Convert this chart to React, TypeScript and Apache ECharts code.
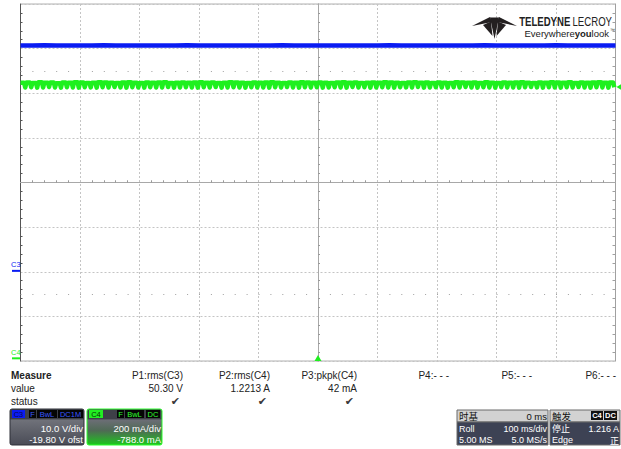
import React, { useEffect, useRef } from "react";
import * as echarts from "echarts";

const C3_STEP_MS = 20;
const C3_VOLTS = [
  50.52, 50.5, 50.53, 50.49, 50.52, 50.5, 50.51, 50.53, 50.5, 50.52,
  50.49, 50.51, 50.52, 50.5, 50.53, 50.51, 50.5, 50.52, 50.49, 50.51,
  50.52, 50.5, 50.53, 50.51, 50.5, 50.52, 50.5, 50.49, 50.52, 50.51,
  50.5, 50.53, 50.51, 50.5, 50.52, 50.49, 50.51, 50.52, 50.5, 50.53,
  50.51, 50.5, 50.52, 50.49, 50.51, 50.53, 50.5, 50.52, 50.51, 50.5, 50.52,
];

const C4_PERIOD_MS = 10;
const C4_PEAK_MA = [
  1235, 1236, 1234, 1237, 1235, 1236, 1233, 1236, 1235, 1237,
  1236, 1234, 1235, 1237, 1236, 1235, 1234, 1236, 1237, 1235,
  1234, 1236, 1235, 1236, 1237, 1234, 1235, 1236, 1235, 1236,
  1237, 1235, 1236, 1234, 1235, 1237, 1236, 1235, 1234, 1236,
  1235, 1236, 1237, 1235, 1234, 1236, 1235, 1237, 1236, 1235,
  1236, 1235, 1234, 1236, 1237, 1235, 1236, 1234, 1235, 1236,
  1235, 1237, 1236, 1235, 1234, 1236, 1237, 1235, 1236, 1234,
  1236, 1235, 1234, 1237, 1236, 1235, 1236, 1234, 1237, 1235,
  1234, 1236, 1235, 1236, 1237, 1235, 1234, 1236, 1235, 1237,
  1236, 1235, 1237, 1234, 1236, 1235, 1236, 1237, 1235, 1236,
];
const C4_DIP_MA = [
  1214, 1215, 1213, 1214, 1216, 1214, 1213, 1215, 1214, 1213,
  1215, 1214, 1213, 1215, 1214, 1216, 1214, 1213, 1215, 1214,
  1213, 1215, 1214, 1214, 1216, 1213, 1214, 1215, 1214, 1213,
  1215, 1214, 1216, 1213, 1214, 1215, 1214, 1213, 1215, 1214,
  1214, 1213, 1215, 1214, 1216, 1214, 1213, 1215, 1214, 1215,
  1213, 1214, 1215, 1214, 1213, 1216, 1214, 1215, 1213, 1214,
  1215, 1214, 1213, 1215, 1214, 1214, 1216, 1213, 1214, 1215,
  1214, 1213, 1215, 1214, 1216, 1214, 1213, 1215, 1214, 1213,
  1215, 1214, 1214, 1213, 1215, 1216, 1214, 1213, 1215, 1214,
  1213, 1215, 1214, 1216, 1214, 1213, 1215, 1214, 1213, 1215,
];

// channel settings
const C3_VOLTS_PER_DIV = 10;
const C3_OFFSET_V = -19.8;
const C4_MA_PER_DIV = 200;
const C4_OFFSET_MA = -788;
const TIME_PER_DIV_MS = 100;
const TRIGGER_LEVEL_MA = 1216;

// measurement table
const MEASURE_NAMES = ["P1:rms(C3)", "P2:rms(C4)", "P3:pkpk(C4)", "P4:- - -", "P5:- - -", "P6:- - -"];
const MEASURE_VALUES = ["50.30 V", "1.2213 A", "42 mA", "", "", ""];
const MEASURE_OK = [true, true, true, false, false, false];

const FONT = "'Liberation Sans', Arial, sans-serif";
const CJK = "'Noto Sans CJK SC', 'Liberation Sans', sans-serif";
const BLUE = "#0a1cf2";
const GREEN = "#1ef01e";

function txt(x: number, y: number, text: string, o: any = {}) {
  return {
    type: "text",
    x,
    y,
    scaleX: o.scaleX || 1,
    silent: true,
    z: 20,
    style: {
      text,
      fill: o.fill || "#222",
      fontSize: o.size || 10,
      fontFamily: o.family || FONT,
      fontWeight: o.weight || "normal",
      textAlign: o.align || "left",
      textVerticalAlign: "middle",
      rich: o.rich,
    },
  };
}
function box(x: number, y: number, w: number, h: number, fill: any, stroke?: string, r = 0) {
  return {
    type: "rect",
    silent: true,
    z: 15,
    shape: { x, y, width: w, height: h, r },
    style: { fill, stroke: stroke || "none", lineWidth: 1 },
  };
}
function tag(x: number, y: number, w: number, label: string, bg: string, fg: string) {
  return [box(x, y, w, 8, bg), txt(x + w / 2, y + 4.3, label, { fill: fg, size: 7.5, align: "center" })];
}
function poly(pts: number[][], fill: string) {
  return { type: "polygon", silent: true, z: 20, shape: { points: pts }, style: { fill } };
}

export default function App() {
  const ref = useRef<HTMLDivElement>(null);
  useEffect(() => {
    if (!ref.current) return;
    const chart = echarts.init(ref.current, undefined, { renderer: "svg" });

    const c3Data = C3_VOLTS.map((v, i) => [i * C3_STEP_MS, v]);
    const c4Data: number[][] = [];
    C4_PEAK_MA.forEach((p, i) => {
      const t = i * C4_PERIOD_MS;
      c4Data.push([t, p]);
      c4Data.push([t + 6, p]);
      c4Data.push([t + 8, C4_DIP_MA[i]]);
    });

    const c3Center = -C3_OFFSET_V;
    const c4Center = -C4_OFFSET_MA;
    const timeMax = TIME_PER_DIV_MS * 10;

    const divAxisBase = {
      type: "value",
      axisLabel: { show: false },
      splitLine: { show: false },
      axisTick: { show: false, inside: true },
      minorTick: { show: true, splitNumber: 5, length: 2, lineStyle: { color: "#9a9a9a" } },
      axisLine: { show: true, onZero: true, onZeroAxisIndex: 0, lineStyle: { color: "#a8a8a8", width: 1 } },
    };

    const option: any = {
      animation: false,
      backgroundColor: "#ffffff",
      grid: {
        left: 20.5,
        top: 4,
        width: 595,
        height: 357,
        show: true,
        borderColor: "#b0b0b0",
        borderWidth: 1,
        backgroundColor: "transparent",
      },
      xAxis: [
        {
          ...divAxisBase,
          min: -5,
          max: 5,
          interval: 1,
          position: "bottom",
          splitLine: { show: true, lineStyle: { color: "#c4c4c4", type: [2, 2], width: 1 } },
        },
        { ...divAxisBase, min: -5, max: 5, interval: 1, position: "top", axisTick: { show: false, inside: false } },
        { type: "value", min: 0, max: timeMax, show: false },
      ],
      yAxis: [
        {
          ...divAxisBase,
          min: -4,
          max: 4,
          interval: 1,
          position: "left",
          splitLine: { show: true, lineStyle: { color: "#c4c4c4", type: [2, 2], width: 1 } },
        },
        { ...divAxisBase, min: -4, max: 4, interval: 1, position: "right", axisTick: { show: false, inside: false } },
        {
          type: "value",
          show: false,
          min: c3Center - 4 * C3_VOLTS_PER_DIV,
          max: c3Center + 4 * C3_VOLTS_PER_DIV,
        },
        {
          type: "value",
          show: false,
          min: c4Center - 4 * C4_MA_PER_DIV,
          max: c4Center + 4 * C4_MA_PER_DIV,
        },
        {
          ...divAxisBase,
          min: -4,
          max: 4,
          interval: 1,
          position: "left",
          axisLine: { show: true, onZero: false, lineStyle: { color: "#555", width: 1 } },
          minorTick: { show: true, splitNumber: 5, length: 2, lineStyle: { color: "#555" } },
        },
        {
          ...divAxisBase,
          min: -4,
          max: 4,
          interval: 1,
          position: "right",
          axisTick: { show: false, inside: true },
          axisLine: { show: true, onZero: false, lineStyle: { color: "#a0a0a0", width: 1 } },
          minorTick: { show: true, splitNumber: 5, length: 3, lineStyle: { color: "#a0a0a0" } },
        },
      ],
      series: [
        {
          type: "line",
          name: "guides",
          xAxisIndex: 0,
          yAxisIndex: 0,
          data: [],
          silent: true,
          markLine: {
            silent: true,
            symbol: "none",
            label: { show: false },
            lineStyle: { color: "#a0a0a0", type: [1, 10.9], width: 1 },
            data: [{ yAxis: 2.5 }, { yAxis: -2.5 }],
          },
        },
        {
          type: "line",
          name: "C3",
          xAxisIndex: 2,
          yAxisIndex: 2,
          data: c3Data,
          showSymbol: false,
          lineStyle: { color: BLUE, width: 4.5 },
          itemStyle: { color: BLUE },
          z: 5,
        },
        {
          type: "line",
          name: "C4",
          xAxisIndex: 2,
          yAxisIndex: 3,
          data: c4Data,
          showSymbol: false,
          lineStyle: { color: GREEN, width: 4.5, join: "round" },
          itemStyle: { color: GREEN },
          z: 6,
        },
      ],
    };

    const colRight = [183, 270, 357, 449, 532, 616];
    const g: any[] = [];
    // logo
    const logoFill = "#231f20";
    g.push(poly([[472, 26], [490, 17], [492, 22]], logoFill));
    g.push(poly([[517, 26], [499, 17], [497, 22]], logoFill));
    g.push(poly([[490, 17.5], [499, 17.5], [494.5, 39]], logoFill));
    g.push(poly([[483, 25], [491, 21.5], [492.5, 36]], logoFill));
    g.push(poly([[506, 25], [498, 21.5], [496.5, 36]], logoFill));
    g.push(
      txt(612, 22, "{b|TELEDYNE} {r|LECROY}", {
        align: "right",
        scaleX: 0.8,
        rich: {
          b: { fontSize: 12, fontWeight: "bold", fontFamily: FONT, color: logoFill },
          r: { fontSize: 12, fontFamily: FONT, color: logoFill },
        },
      })
    );
    g.push(
      txt(609, 33.5, "{r|Everywhere}{b|you}{r|look}", {
        align: "right",
        rich: {
          b: { fontSize: 9.5, fontWeight: "bold", fontFamily: FONT, color: logoFill },
          r: { fontSize: 9.5, fontFamily: FONT, color: logoFill },
        },
      })
    );
    g.push(txt(610, 30, "™", { size: 5, fill: logoFill }));

    // measure table
    g.push(txt(11, 375, "Measure", { weight: "bold" }));
    g.push(txt(11, 388, "value"));
    g.push(txt(11, 401, "status"));
    MEASURE_NAMES.forEach((n, i) => {
      g.push(txt(colRight[i], 375, n, { align: "right" }));
      if (MEASURE_VALUES[i]) g.push(txt(colRight[i], 388, MEASURE_VALUES[i], { align: "right" }));
      if (MEASURE_OK[i])
        g.push(txt(colRight[i] - 3, 401, "✔", { align: "right", size: 11, family: "'DejaVu Sans', sans-serif", fill: "#3a3a3a" }));
    });

    // C3 channel box
    g.push(
      box(10, 409, 74, 36, new echarts.graphic.LinearGradient(0, 0, 0, 1, [
        { offset: 0, color: "#3e4048" },
        { offset: 0.28, color: "#3e4048" },
        { offset: 0.3, color: "#70727a" },
        { offset: 1, color: "#4a4c56" },
      ]), "#2e3038", 2)
    );
    g.push(...tag(12, 410, 13, "C3", "#0a1cf2", "#0a0a50"));
    g.push(...tag(29, 410, 7, "F", "#050505", "#3a5aff"));
    g.push(...tag(37, 410, 20, "BwL", "#050505", "#3a5aff"));
    g.push(...tag(58, 410, 25, "DC1M", "#050505", "#3a5aff"));
    g.push(txt(83, 428.5, C3_VOLTS_PER_DIV.toFixed(1) + " V/div", { align: "right", fill: "#ffffff", size: 9.5 }));
    g.push(txt(83, 439.5, C3_OFFSET_V.toFixed(2) + " V ofst", { align: "right", fill: "#ffffff", size: 9.5 }));

    // C4 channel box
    g.push(
      box(87, 409, 75, 36, new echarts.graphic.LinearGradient(0, 0, 0, 1, [
        { offset: 0, color: "#3e4048" },
        { offset: 0.28, color: "#3e4048" },
        { offset: 0.3, color: "#6c6e76" },
        { offset: 0.6, color: "#4f6a55" },
        { offset: 1, color: "#1cc81c" },
      ]), "#2cff2c", 2)
    );
    g.push(...tag(89, 410, 14, "C4", "#22ee22", "#063006"));
    g.push(...tag(117, 410, 7, "F", "#050505", "#30ff30"));
    g.push(...tag(125, 410, 19, "BwL", "#050505", "#30ff30"));
    g.push(...tag(146, 410, 14, "DC", "#050505", "#30ff30"));
    g.push(txt(161, 428.5, C4_MA_PER_DIV + " mA/div", { align: "right", fill: "#ffffff", size: 9.5 }));
    g.push(txt(161, 439.5, C4_OFFSET_MA.toFixed(1) + " mA", { align: "right", fill: "#ffffff", size: 9.5 }));

    // timebase box
    g.push(box(457, 410, 91, 12, "#d2d2d2", "#6a6a6a"));
    g.push(box(457, 422, 91, 23, "#3d4254", "#6a6a6a"));
    g.push(txt(459, 416, "时基", { family: CJK, size: 9.5, fill: "#111" }));
    g.push(txt(547, 416, "0 ms", { align: "right", fill: "#111", size: 9.5 }));
    g.push(txt(459, 428.5, "Roll", { fill: "#fff", size: 9 }));
    g.push(txt(547, 428.5, TIME_PER_DIV_MS + " ms/div", { align: "right", fill: "#fff", size: 9 }));
    g.push(txt(459, 440, "5.00 MS", { fill: "#fff", size: 9 }));
    g.push(txt(547, 440, "5.0 MS/s", { align: "right", fill: "#fff", size: 9 }));

    // trigger box
    g.push(box(550, 410, 70, 12, "#d2d2d2", "#6a6a6a"));
    g.push(box(550, 422, 70, 23, "#3d4254", "#6a6a6a"));
    g.push(txt(552, 416, "触发", { family: CJK, size: 9.5, fill: "#111" }));
    g.push(box(591, 411, 12, 9, "#111"));
    g.push(txt(597, 415.7, "C4", { align: "center", fill: "#fff", size: 7.5, weight: "bold" }));
    g.push(box(604, 411, 13, 9, "#111"));
    g.push(txt(610.5, 415.7, "DC", { align: "center", fill: "#fff", size: 7.5, weight: "bold" }));
    g.push(txt(552, 428.5, "停止", { family: CJK, size: 9, fill: "#fff" }));
    g.push(txt(619, 428.5, (TRIGGER_LEVEL_MA / 1000).toFixed(3) + " A", { align: "right", fill: "#fff", size: 9 }));
    g.push(txt(552, 440, "Edge", { fill: "#fff", size: 9 }));
    g.push(txt(619, 440, "正", { align: "right", family: CJK, size: 9, fill: "#fff" }));

    option.graphic = g;
    chart.setOption(option);

    // channel ground markers and trigger markers, placed through the chart's own scales
    const xLeft = chart.convertToPixel({ xAxisIndex: 2 }, 0) as number;
    const xRight = chart.convertToPixel({ xAxisIndex: 2 }, timeMax) as number;
    const xMid = chart.convertToPixel({ xAxisIndex: 2 }, timeMax / 2) as number;
    const y3 = chart.convertToPixel({ yAxisIndex: 2 }, 0) as number;
    const y4 = chart.convertToPixel({ yAxisIndex: 3 }, 0) as number;
    const yBottom = chart.convertToPixel({ yAxisIndex: 3 }, c4Center - 4 * C4_MA_PER_DIV) as number;
    const yTrig = chart.convertToPixel({ yAxisIndex: 3 }, TRIGGER_LEVEL_MA) as number;
    const m: any[] = [];
    const ground = (y: number, label: string, color: string) => {
      m.push(box(xLeft - 8.5, y - 1, 8, 2, color));
      m.push(txt(xLeft - 9.5, y - 6, label, { fill: color, size: 7.5 }));
    };
    ground(y3, "C3", BLUE);
    ground(y4, "C4", GREEN);
    m.push(poly([[xMid - 3.5, yBottom], [xMid + 3.5, yBottom], [xMid, yBottom - 6]], GREEN));
    m.push(poly([[xRight + 6, yTrig - 3], [xRight + 6, yTrig + 3], [xRight + 1, yTrig]], GREEN));
    chart.setOption({ graphic: [...g, ...m] });

    return () => chart.dispose();
  }, []);

  return (
    <div
      ref={ref}
      style={{ position: "fixed", left: 0, top: 0, width: 621, height: 449, background: "#fff" }}
    />
  );
}
